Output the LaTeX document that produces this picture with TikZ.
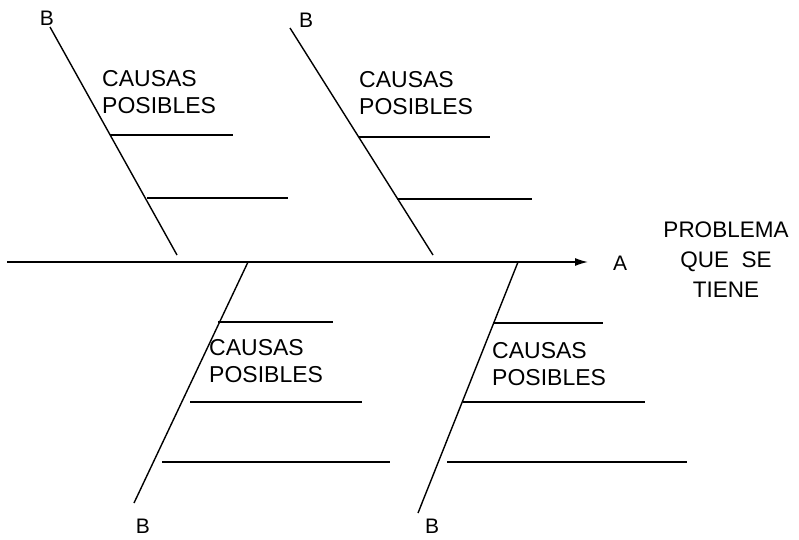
\documentclass[tikz,border=0pt]{standalone}
\usepackage{fontspec}
\setmainfont{Liberation Sans}
\usetikzlibrary{arrows.meta,positioning,calc}
\tikzset{
  espina/.style={draw=black, line width=1.4pt},
  raya/.style={draw=black, line width=1.1pt},
  causa/.style={align=left, anchor=north west, inner sep=0pt, font=\fontsize{23}{27}\selectfont},
  letra/.style={inner sep=0pt, font=\fontsize{21}{21}\selectfont},
  efecto/.style={align=center, anchor=north, inner sep=0pt, font=\fontsize{22.5}{30}\selectfont}
}
\newcommand{\rama}[3]{\coordinate (#1-ini) at #2; \coordinate (#1-fin) at #3; \draw[raya] (#1-ini) -- (#1-fin);}

\begin{document}
\begin{tikzpicture}[x=1pt, y=-1pt]
\useasboundingbox (0,0) rectangle (799,539);

% espina central y efecto
\coordinate (cola) at (7,262);
\coordinate (punta) at (588,262);
\draw[espina, -{Latex[length=13pt,width=8pt]}] (cola) -- (punta);
\node[letra] (a) at (620,263) {A};
\node[efecto] (problema) at (726,222) {PROBLEMA\\QUE\ \ SE\\TIENE};

% espinas de arriba
\coordinate (e1-top) at (50,27); \coordinate (e1-pie) at (177,255);
\draw[espina] (e1-top) -- (e1-pie);
\node[letra] (b1) at (47,18) {B};
\node[causa] (c1) at (102,70) {CAUSAS\\POSIBLES};
\rama{r11}{(110,135)}{(233,135)}
\rama{r12}{(147,198)}{(288,198)}

\coordinate (e2-top) at (290,28); \coordinate (e2-pie) at (433,255);
\draw[espina] (e2-top) -- (e2-pie);
\node[letra] (b2) at (306,20) {B};
\node[causa] (c2) at (359,71) {CAUSAS\\POSIBLES};
\rama{r21}{(359,137)}{(490,137)}
\rama{r22}{(397,199)}{(532,199)}

% espinas de abajo
\coordinate (e3-top) at (248,262); \coordinate (e3-pie) at (134,503);
\draw[espina] (e3-top) -- (e3-pie);
\node[letra] (b3) at (143,526) {B};
\node[causa] (c3) at (209,339) {CAUSAS\\POSIBLES};
\rama{r31}{(218,322)}{(333,322)}
\rama{r32}{(190,402)}{(362,402)}
\rama{r33}{(162,462)}{(390,462)}

\coordinate (e4-top) at (518,262); \coordinate (e4-pie) at (418,513);
\draw[espina] (e4-top) -- (e4-pie);
\node[letra] (b4) at (432,526) {B};
\node[causa] (c4) at (492,342) {CAUSAS\\POSIBLES};
\rama{r41}{(493,323)}{(603,323)}
\rama{r42}{(463,402)}{(645,402)}
\rama{r43}{(447,462)}{(687,462)}

\end{tikzpicture}
\end{document}
